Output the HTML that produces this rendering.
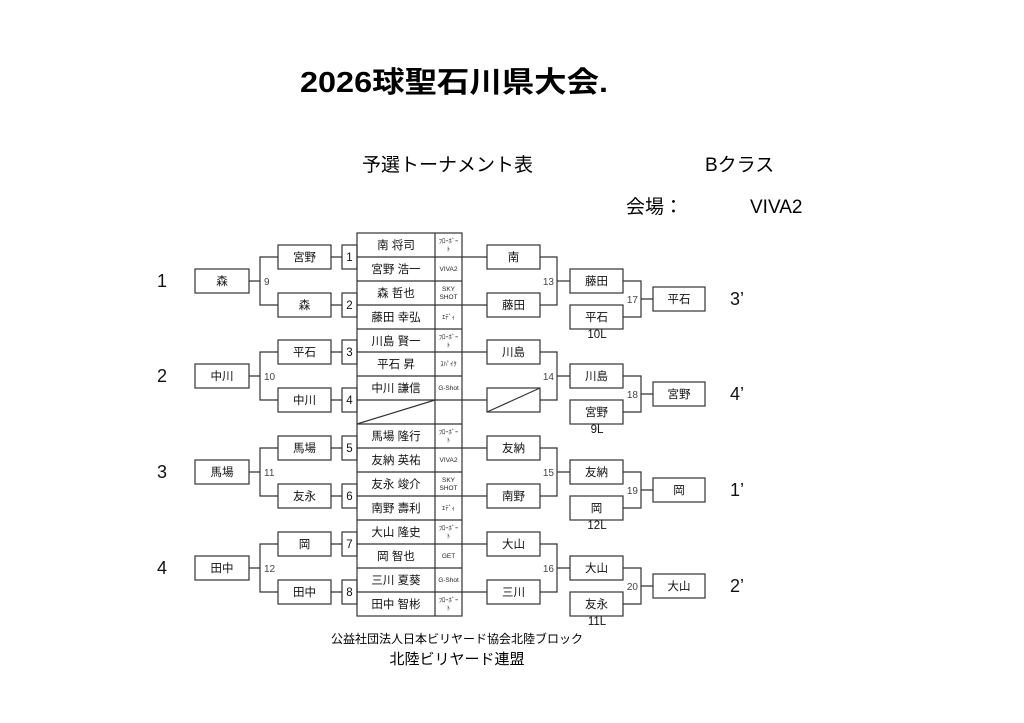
<!DOCTYPE html>
<html><head><meta charset="utf-8"><style>
body{margin:0;background:#fff;}
svg{display:block;font-family:"Liberation Sans","Noto Sans CJK JP",sans-serif;}
.b{fill:none;stroke:#333;stroke-width:1.2}
.n{font-size:11.5px;text-anchor:middle;fill:#111}
.s{font-size:6.5px;text-anchor:middle;fill:#222}
.l{font-size:10px;fill:#444}
.g{font-size:18px;fill:#111}
</style></head><body>
<svg width="1024" height="723" viewBox="0 0 1024 723">
<text x="300" y="92" style="font-size:29px;font-weight:bold" textLength="308" lengthAdjust="spacingAndGlyphs">2026球聖石川県大会.</text>
<text x="362" y="171" style="font-size:19px">予選トーナメント表</text>
<text x="705" y="171" style="font-size:19px">Bクラス</text>
<text x="626" y="213" style="font-size:19px">会場：</text>
<text x="750" y="213" style="font-size:19px">VIVA2</text>

<!-- table -->
<rect class="b" x="357" y="233" width="105" height="383"/>
<line class="b" x1="435" y1="233" x2="435" y2="616"/>
<g class="b">
<line x1="357" y1="257" x2="462" y2="257"/><line x1="357" y1="281" x2="462" y2="281"/><line x1="357" y1="305" x2="462" y2="305"/><line x1="357" y1="329" x2="462" y2="329"/><line x1="357" y1="352" x2="462" y2="352"/><line x1="357" y1="376" x2="462" y2="376"/><line x1="357" y1="400" x2="462" y2="400"/><line x1="357" y1="424" x2="462" y2="424"/><line x1="357" y1="448" x2="462" y2="448"/><line x1="357" y1="472" x2="462" y2="472"/><line x1="357" y1="496" x2="462" y2="496"/><line x1="357" y1="520" x2="462" y2="520"/><line x1="357" y1="544" x2="462" y2="544"/><line x1="357" y1="568" x2="462" y2="568"/><line x1="357" y1="592" x2="462" y2="592"/>
<line x1="357" y1="424" x2="435" y2="400"/>
</g>
<g class="n">
<text x="396" y="249">南 将司</text><text x="396" y="273">宮野 浩一</text>
<text x="396" y="297">森 哲也</text><text x="396" y="321">藤田 幸弘</text>
<text x="396" y="345">川島 賢一</text><text x="396" y="368">平石 昇</text>
<text x="396" y="392">中川 謙信</text>
<text x="396" y="440">馬場 隆行</text><text x="396" y="464">友納 英祐</text>
<text x="396" y="488">友永 竣介</text><text x="396" y="512">南野 壽利</text>
<text x="396" y="536">大山 隆史</text><text x="396" y="560">岡 智也</text>
<text x="396" y="584">三川 夏葵</text><text x="396" y="608">田中 智彬</text>
</g>
<g class="s">
<text x="448.5" y="243">ﾌﾛｰﾎﾞｰ</text><text x="448.5" y="251">ﾄ</text>
<text x="448.5" y="271">VIVA2</text>
<text x="448.5" y="291">SKY</text><text x="448.5" y="299">SHOT</text>
<text x="448.5" y="319">ｴﾃﾞｨ</text>
<text x="448.5" y="339">ﾌﾛｰﾎﾞｰ</text><text x="448.5" y="347">ﾄ</text>
<text x="448.5" y="366">ｽﾊﾟｲｸ</text>
<text x="448.5" y="390">G-Shot</text>
<text x="448.5" y="434">ﾌﾛｰﾎﾞｰ</text><text x="448.5" y="442">ﾄ</text>
<text x="448.5" y="462">VIVA2</text>
<text x="448.5" y="482">SKY</text><text x="448.5" y="490">SHOT</text>
<text x="448.5" y="510">ｴﾃﾞｨ</text>
<text x="448.5" y="530">ﾌﾛｰﾎﾞｰ</text><text x="448.5" y="538">ﾄ</text>
<text x="448.5" y="558">GET</text>
<text x="448.5" y="582">G-Shot</text>
<text x="448.5" y="602">ﾌﾛｰﾎﾞｰ</text><text x="448.5" y="610">ﾄ</text>
</g>

<!-- left side -->
<g class="b">
<rect x="342" y="245" width="15" height="24"/><rect x="342" y="293" width="15" height="24"/><rect x="342" y="340" width="15" height="24"/><rect x="342" y="388" width="15" height="24"/>
<rect x="342" y="436" width="15" height="24"/><rect x="342" y="484" width="15" height="24"/><rect x="342" y="532" width="15" height="24"/><rect x="342" y="580" width="15" height="24"/>
<rect x="278" y="245" width="53" height="24"/><rect x="278" y="293" width="53" height="24"/><rect x="278" y="340" width="53" height="24"/><rect x="278" y="388" width="53" height="24"/>
<rect x="278" y="436" width="53" height="24"/><rect x="278" y="484" width="53" height="24"/><rect x="278" y="532" width="53" height="24"/><rect x="278" y="580" width="53" height="24"/>
<path d="M331 257H342M331 305H342M331 352H342M331 400H342M331 448H342M331 496H342M331 544H342M331 592H342"/>
<path d="M278 257H260V305H278M260 281H249"/>
<path d="M278 352H260V400H278M260 376H249"/>
<path d="M278 448H260V496H278M260 472H249"/>
<path d="M278 544H260V592H278M260 568H249"/>
<rect x="195" y="269" width="54" height="24"/><rect x="195" y="364" width="54" height="24"/><rect x="195" y="460" width="54" height="24"/><rect x="195" y="556" width="54" height="24"/>
</g>
<g class="n">
<text x="349.5" y="261">1</text><text x="349.5" y="309">2</text><text x="349.5" y="356">3</text><text x="349.5" y="404">4</text>
<text x="349.5" y="452">5</text><text x="349.5" y="500">6</text><text x="349.5" y="548">7</text><text x="349.5" y="596">8</text>
<text x="304.5" y="261">宮野</text><text x="304.5" y="309">森</text><text x="304.5" y="356">平石</text><text x="304.5" y="404">中川</text>
<text x="304.5" y="452">馬場</text><text x="304.5" y="500">友永</text><text x="304.5" y="548">岡</text><text x="304.5" y="596">田中</text>
<text x="222" y="285">森</text><text x="222" y="380">中川</text><text x="222" y="476">馬場</text><text x="222" y="572">田中</text>
</g>
<g class="l"><text x="264" y="285">9</text><text x="264" y="380">10</text><text x="264" y="476">11</text><text x="264" y="572">12</text></g>
<g class="g"><text x="157" y="287">1</text><text x="157" y="382">2</text><text x="157" y="478">3</text><text x="157" y="574">4</text></g>

<!-- right side -->
<g class="b">
<path d="M462 257H487M462 305H487M462 352H487M462 400H487M462 448H487M462 496H487M462 544H487M462 592H487"/>
<rect x="487" y="245" width="53" height="24"/><rect x="487" y="293" width="53" height="24"/><rect x="487" y="340" width="53" height="24"/><rect x="487" y="388" width="53" height="24"/>
<rect x="487" y="436" width="53" height="24"/><rect x="487" y="484" width="53" height="24"/><rect x="487" y="532" width="53" height="24"/><rect x="487" y="580" width="53" height="24"/>
<line x1="487" y1="412" x2="540" y2="388"/>
<path d="M540 257H557V305H540M557 281H570"/>
<path d="M540 352H557V400H540M557 376H570"/>
<path d="M540 448H557V496H540M557 472H570"/>
<path d="M540 544H557V592H540M557 568H570"/>
<rect x="570" y="269" width="53" height="24"/><rect x="570" y="305" width="53" height="24"/>
<rect x="570" y="364" width="53" height="24"/><rect x="570" y="400" width="53" height="24"/>
<rect x="570" y="460" width="53" height="24"/><rect x="570" y="496" width="53" height="24"/>
<rect x="570" y="556" width="53" height="24"/><rect x="570" y="592" width="53" height="24"/>
<path d="M623 281H641V317H623M641 299H653"/>
<path d="M623 376H641V412H623M641 394H653"/>
<path d="M623 472H641V508H623M641 490H653"/>
<path d="M623 568H641V604H623M641 586H653"/>
<rect x="653" y="287" width="52" height="24"/><rect x="653" y="382" width="52" height="24"/><rect x="653" y="478" width="52" height="24"/><rect x="653" y="574" width="52" height="24"/>
</g>
<g class="n">
<text x="513.5" y="261">南</text><text x="513.5" y="309">藤田</text><text x="513.5" y="356">川島</text>
<text x="513.5" y="452">友納</text><text x="513.5" y="500">南野</text><text x="513.5" y="548">大山</text><text x="513.5" y="596">三川</text>
<text x="596.5" y="285">藤田</text><text x="596.5" y="321">平石</text>
<text x="596.5" y="380">川島</text><text x="596.5" y="416">宮野</text>
<text x="596.5" y="476">友納</text><text x="596.5" y="512">岡</text>
<text x="596.5" y="572">大山</text><text x="596.5" y="608">友永</text>
<text x="679" y="303">平石</text><text x="679" y="398">宮野</text><text x="679" y="494">岡</text><text x="679" y="590">大山</text>
<text x="597" y="338">10L</text><text x="597" y="433">9L</text><text x="597" y="529">12L</text><text x="597" y="625">11L</text>
</g>
<g class="l" text-anchor="end">
<text x="554" y="285">13</text><text x="554" y="380">14</text><text x="554" y="476">15</text><text x="554" y="572">16</text>
<text x="638" y="303">17</text><text x="638" y="398">18</text><text x="638" y="494">19</text><text x="638" y="590">20</text>
</g>
<g class="g"><text x="730" y="305">3’</text><text x="730" y="400">4’</text><text x="730" y="496">1’</text><text x="730" y="592">2’</text></g>

<text x="457" y="643" style="font-size:12px;text-anchor:middle">公益社団法人日本ビリヤード協会北陸ブロック</text>
<text x="457" y="664" style="font-size:15px;text-anchor:middle">北陸ビリヤード連盟</text>
</svg>
</body></html>
